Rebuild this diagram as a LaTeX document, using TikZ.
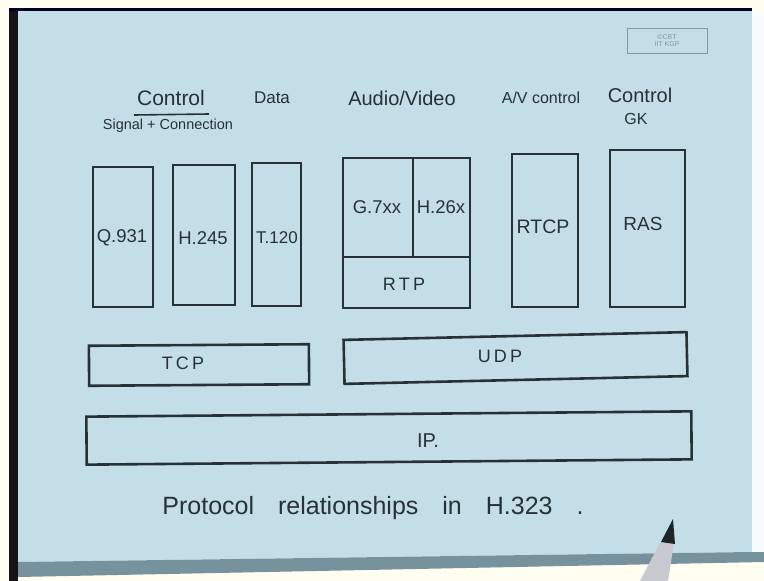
\documentclass[tikz,border=0pt]{standalone}
\usepackage{fontspec}
\setmainfont{Liberation Sans}
\newfontfamily\spacedfont[LetterSpace=18]{Liberation Sans}
\definecolor{paper}{RGB}{196,222,232}
\definecolor{ink}{RGB}{38,50,54}
\definecolor{band}{RGB}{118,146,156}
\definecolor{stampc}{RGB}{130,152,160}
\definecolor{penbody}{RGB}{200,202,208}
\definecolor{pentip}{RGB}{28,38,40}
\begin{document}
\begin{tikzpicture}[x=1pt,y=-1pt,
  box/.style={draw=ink, line width=2.6pt, inner sep=0pt},
  lbl/.style={text=ink, inner sep=0pt},
  blbl/.style={lbl, font=\fontsize{18.5}{18.5}\selectfont},
  slbl/.style={lbl, font=\fontsize{18}{18}\spacedfont},
  rule/.style={draw=ink, line width=2.6pt}]
\useasboundingbox (0,0) rectangle (764,581);
% scene background
\fill[white!94!yellow] (0,0) rectangle (764,581);
\fill[paper] (18,11) -- (752,11) -- (752,552) -- (18,562) -- cycle;
\fill[white!90!paper] (752,11) rectangle (764,552);
\fill[band] (18,562) -- (752,552) -- (764,552) -- (764,562) -- (18,577) -- cycle;
\fill[black!92] (9,8) rectangle (18,581);
\fill[black!85!blue] (9,8) rectangle (752,11);
% stamp
\node[draw=stampc, line width=0.8pt, minimum width=80pt, minimum height=25pt,
      text=stampc, align=center, font=\fontsize{7}{7.5}\selectfont] (stamp) at (667,40.5) {©CBT\\IIT KGP};
% headers
\node[lbl, font=\fontsize{21}{21}\selectfont] (ctla) at (171,98) {Control};
\coordinate (ula) at (134,115);
\coordinate (ulb) at (209,114);
\draw[ink, line width=1.6pt] (ula) -- (ulb);
\node[lbl, font=\fontsize{14.5}{14.5}\selectfont] (sig) at (168,126) {Signal + Connection};
\node[lbl, font=\fontsize{17}{17}\selectfont] (data) at (272,98) {Data};
\node[lbl, font=\fontsize{20}{20}\selectfont] (audvid) at (402,98) {Audio/Video};
\node[lbl, font=\fontsize{16}{16}\selectfont] (avctl) at (541,98) {A/V control};
\node[lbl, font=\fontsize{20}{20}\selectfont] (ctlb) at (640,95) {Control};
\node[lbl, font=\fontsize{16}{16}\selectfont] (gk) at (636,119) {GK};
% upper protocol boxes
\node[box, minimum width=60pt, minimum height=140pt] (q931) at (123,237) {};
\node[blbl] (q931t) at (122,238) {Q.931};
\node[box, minimum width=62pt, minimum height=140pt] (h245) at (204,235) {};
\node[blbl] (h245t) at (203,238) {H.245};
\node[box, minimum width=49pt, minimum height=143pt] (t120) at (276.5,234.5) {};
\node[lbl, font=\fontsize{17}{17}\selectfont] (t120t) at (277,238) {T.120};
\node[box, minimum width=127pt, minimum height=150pt] (av) at (406.5,233) {};
\coordinate (avdiv) at (413,257);
\draw[rule] (av.north -| avdiv) -- (avdiv);
\draw[rule] (av.west |- avdiv) -- (av.east |- avdiv);
\node[blbl] (g7) at (377,207) {G.7xx};
\node[blbl] (h26) at (441,207) {H.26x};
\node[slbl] (rtp) at (404,284) {RTP};
\node[box, minimum width=66pt, minimum height=153pt] (rtcp) at (545,230.5) {};
\node[lbl, font=\fontsize{19.5}{19.5}\selectfont] (rtcpt) at (543,227) {RTCP};
\node[box, minimum width=75pt, minimum height=157pt] (ras) at (647.5,228.5) {};
\node[lbl, font=\fontsize{19}{19}\selectfont] (rast) at (643,224) {RAS};
% transport layer
\node[box, minimum width=220pt, minimum height=40pt, rotate=0.4] (tcp) at (199,365) {};
\node[slbl] (tcpt) at (183,363) {TCP};
\node[box, minimum width=343pt, minimum height=44pt, rotate=1.3] (udp) at (515.5,358) {};
\node[slbl] (udpt) at (500,356) {UDP};
% network layer
\node[box, minimum width=605pt, minimum height=48pt, rotate=0.5] (ip) at (389,438) {};
\node[lbl, font=\fontsize{20}{20}\selectfont] (ipt) at (428,441) {IP.};
% caption
\node[lbl, font=\fontsize{25}{25}\selectfont] (cap) at (373,508) {\spaceskip=24pt Protocol relationships in H.323 .};
% pen
\fill[penbody] (661,541) -- (674,543) -- (668,581) -- (640,581) -- cycle;
\fill[pentip] (673,519) -- (661,542) -- (675,544) -- cycle;
\end{tikzpicture}
\end{document}
